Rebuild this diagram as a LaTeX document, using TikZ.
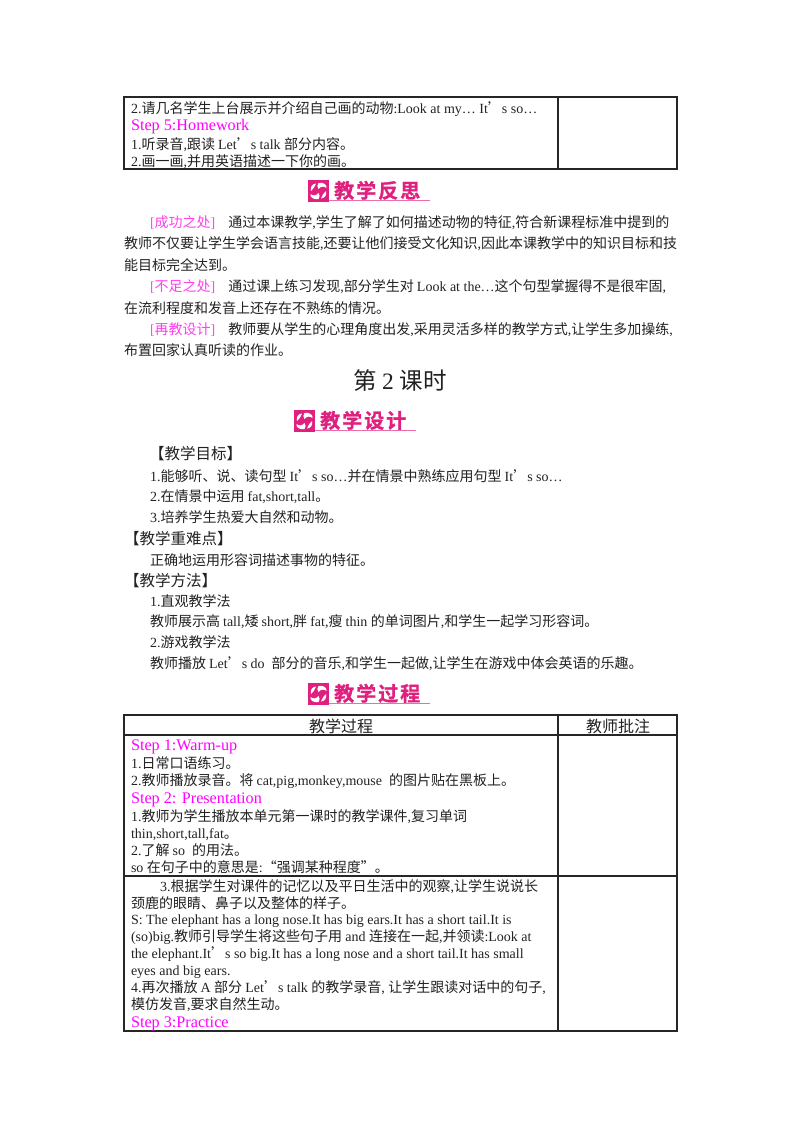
\documentclass[tikz,border=0pt]{standalone}
\usepackage{fontspec}
\setmainfont{Liberation Serif}
\newfontfamily\cjk{Noto Sans CJK SC}
\newfontfamily\cjkb[LetterSpace=10,FakeBold=1]{Noto Sans CJK SC Bold}
\XeTeXinterchartokenstate=1
\newXeTeXintercharclass\cjkcl
\newcount\cc
\cc="4E00 \loop\XeTeXcharclass\cc=\cjkcl \advance\cc 1 \ifnum\cc<"A000 \repeat
\cc="3000 \loop\XeTeXcharclass\cc=\cjkcl \advance\cc 1 \ifnum\cc<"3100 \repeat
\cc="FF00 \loop\XeTeXcharclass\cc=\cjkcl \advance\cc 1 \ifnum\cc<"FFF0 \repeat
\XeTeXcharclass"2018=\cjkcl \XeTeXcharclass"2019=\cjkcl
\XeTeXcharclass"201C=\cjkcl \XeTeXcharclass"201D=\cjkcl
\XeTeXinterchartoks 0 \cjkcl={\cjk}
\XeTeXinterchartoks 4095 \cjkcl={\cjk}
\XeTeXinterchartoks \cjkcl 0={\rmfamily}
\XeTeXinterchartoks 4095 0={\rmfamily}
\definecolor{stepc}{HTML}{FF00FF}
\definecolor{noteC}{HTML}{FF40F0}
\definecolor{banC}{HTML}{E0207F}
\definecolor{txt}{HTML}{222222}
\newcommand{\banfont}{\XeTeXinterchartokenstate=0\relax\fontsize{20}{20}\selectfont\cjkb}
\tikzset{
 x=1pt,y=-1pt,
 tl/.style={anchor=base west,inner sep=0pt,outer sep=0pt,text=txt,font=\fontsize{14}{14}\selectfont},
 bl/.style={tl},
 sl/.style={tl,text=stepc,font=\fontsize{16.2}{16}\selectfont},
 hl/.style={tl,font=\fontsize{15.5}{15}\selectfont},
 hd/.style={tl,anchor=base,font=\fontsize{16}{16}\selectfont},
 tb/.style={draw=black!85,line width=1.1pt},
 bant/.style={anchor=base west,inner sep=0pt,text=banC},
 banline/.style={draw=banC!65,line width=0.9pt},
 icon/.style={fill=banC,draw=none,anchor=north west,inner sep=0pt,minimum width=21pt,minimum height=21.5pt},
}
\newcommand{\banner}[4]{%
 \node[icon] (#4i) at (#1,#2) {};
 \fill[white] (#1+10.5,#2+3) .. controls (#1+16,#2+2) and (#1+19,#2+5) .. (#1+18.5,#2+8) .. controls (#1+16,#2+6) and (#1+13,#2+6) .. (#1+10.5,#2+9) .. controls (#1+9,#2+7) and (#1+9,#2+5) .. cycle;
 \fill[white] (#1+10.5,#2+19) .. controls (#1+5,#2+20) and (#1+2,#2+17) .. (#1+2.5,#2+14) .. controls (#1+5,#2+16) and (#1+8,#2+16) .. (#1+10.5,#2+13) .. controls (#1+12,#2+15) and (#1+12,#2+17) .. cycle;
 \fill[white] (#1+3,#2+11) .. controls (#1+2,#2+7) and (#1+4,#2+4) .. (#1+8,#2+3.5) .. controls (#1+6.5,#2+6) and (#1+6.5,#2+8) .. cycle;
 \fill[white] (#1+18,#2+11) .. controls (#1+19,#2+15) and (#1+17,#2+18) .. (#1+13,#2+18.5) .. controls (#1+14.5,#2+16) and (#1+14.5,#2+14) .. cycle;
 \node[bant] (#4t) at (#1+26,#2+18) {\banfont #3};
 \coordinate (#4s) at (#1+21,#2+20.8);
 \coordinate (#4e) at (#1+122,#2+20.8);
 \draw[banline] (#4s) -- (#4e);
}
\begin{document}
\begin{tikzpicture}
\useasboundingbox (0,0) rectangle (800,1132);
\fill[white] (0,0) rectangle (800,1132);
% first table
\node[inner sep=0,minimum size=0] (t1a) at (124,97) {};
\node[inner sep=0,minimum size=0] (t1b) at (677,169) {};
\draw[tb] (t1a) rectangle (t1b);
\coordinate (t1c) at (558,97);\coordinate (t1d) at (558,169);
\draw[tb] (t1c) -- (t1d);
\node[tl] (a1) at (131,113) {2.请几名学生上台展示并介绍自己画的动物:Look at my… It’s so…};
\node[sl] (a2) at (131,130) {Step 5:Homework};
\node[tl] (a3) at (131,149) {1.听录音,跟读 Let’s talk 部分内容。};
\node[tl] (a4) at (131,166) {2.画一画,并用英语描述一下你的画。};
\banner{308}{180}{教学反思}{ba}
% reflection
\node[bl] (b1) at (150,227) {\textcolor{noteC}{[成功之处]}\hspace{13pt}通过本课教学,学生了解了如何描述动物的特征,符合新课程标准中提到的};
\node[bl] (b2) at (124,248) {教师不仅要让学生学会语言技能,还要让他们接受文化知识,因此本课教学中的知识目标和技};
\node[bl] (b3) at (124,270) {能目标完全达到。};
\node[bl] (b4) at (150,291) {\textcolor{noteC}{[不足之处]}\hspace{13pt}通过课上练习发现,部分学生对 Look at the…这个句型掌握得不是很牢固,};
\node[bl] (b5) at (124,313) {在流利程度和发音上还存在不熟练的情况。};
\node[bl] (b6) at (150,334) {\textcolor{noteC}{[再教设计]}\hspace{13pt}教师要从学生的心理角度出发,采用灵活多样的教学方式,让学生多加操练,};
\node[bl] (b7) at (124,355) {布置回家认真听读的作业。};
\node[tl,anchor=base,font=\fontsize{23.5}{24}\selectfont] (title) at (400,389) {第 2 课时};
\banner{294}{410}{教学设计}{bb}
% goals
\node[tl,font=\fontsize{15.5}{15}\selectfont] (c1) at (149,459) {【教学目标】};
\node[tl] (c2) at (150,481) {1.能够听、说、读句型 It’s so…并在情景中熟练应用句型 It’s so…};
\node[tl] (c3) at (150,501) {2.在情景中运用 fat,short,tall。};
\node[tl] (c4) at (150,522) {3.培养学生热爱大自然和动物。};
\node[hl] (c5) at (124,544) {【教学重难点】};
\node[tl] (c6) at (150,565) {正确地运用形容词描述事物的特征。};
\node[hl] (c7) at (124,586) {【教学方法】};
\node[tl] (c8) at (150,606) {1.直观教学法};
\node[tl] (c9) at (150,626) {教师展示高 tall,矮 short,胖 fat,瘦 thin 的单词图片,和学生一起学习形容词。};
\node[tl] (c10) at (150,647) {2.游戏教学法};
\node[tl] (c11) at (150,668) {教师播放 Let’s do\ \ 部分的音乐,和学生一起做,让学生在游戏中体会英语的乐趣。};
\banner{308}{683}{教学过程}{bc}
% second table
\node[inner sep=0,minimum size=0] (t2a) at (124,715) {};
\node[inner sep=0,minimum size=0] (t2b) at (677,1031) {};
\draw[tb] (t2a) rectangle (t2b);
\coordinate (t2c) at (558,715);\coordinate (t2d) at (558,1031);
\draw[tb] (t2c) -- (t2d);
\coordinate (r1l) at (124,735);\coordinate (r1r) at (677,735);
\coordinate (r2l) at (124,876);\coordinate (r2r) at (677,876);
\draw[tb] (r1l) -- (r1r);
\draw[tb] (r2l) -- (r2r);
\node[hd] (h1) at (341,732) {教学过程};
\node[hd] (h2) at (618,732) {教师批注};
\node[sl] (d1) at (131,750) {Step 1:Warm-up};
\node[tl] (d2) at (131,768) {1.日常口语练习。};
\node[tl] (d3) at (131,785) {2.教师播放录音。将 cat,pig,monkey,mouse\ \ 的图片贴在黑板上。};
\node[sl] (d4) at (131,803) {Step 2: Presentation};
\node[tl] (d5) at (131,821) {1.教师为学生播放本单元第一课时的教学课件,复习单词};
\node[tl] (d6) at (131,838) {thin,short,tall,fat。};
\node[tl] (d7) at (131,855) {2.了解 so\ \ 的用法。};
\node[tl] (d8) at (131,872) {so 在句子中的意思是:“强调某种程度”。};
\node[tl] (e1) at (160,891) {3.根据学生对课件的记忆以及平日生活中的观察,让学生说说长};
\node[tl] (e2) at (131,908) {颈鹿的眼睛、鼻子以及整体的样子。};
\node[tl] (e3) at (131,924) {S: The elephant has a long nose.It has big ears.It has a short tail.It is};
\node[tl] (e4) at (131,941) {(so)big.教师引导学生将这些句子用 and 连接在一起,并领读:Look at};
\node[tl] (e5) at (131,958) {the elephant.It’s so big.It has a long nose and a short tail.It has small};
\node[tl] (e6) at (131,975) {eyes and big ears.};
\node[tl] (e7) at (131,992) {4.再次播放 A 部分 Let’s talk 的教学录音, 让学生跟读对话中的句子,};
\node[tl] (e8) at (131,1009) {模仿发音,要求自然生动。};
\node[sl] (e9) at (131,1027) {Step 3:Practice};
\end{tikzpicture}
\end{document}
